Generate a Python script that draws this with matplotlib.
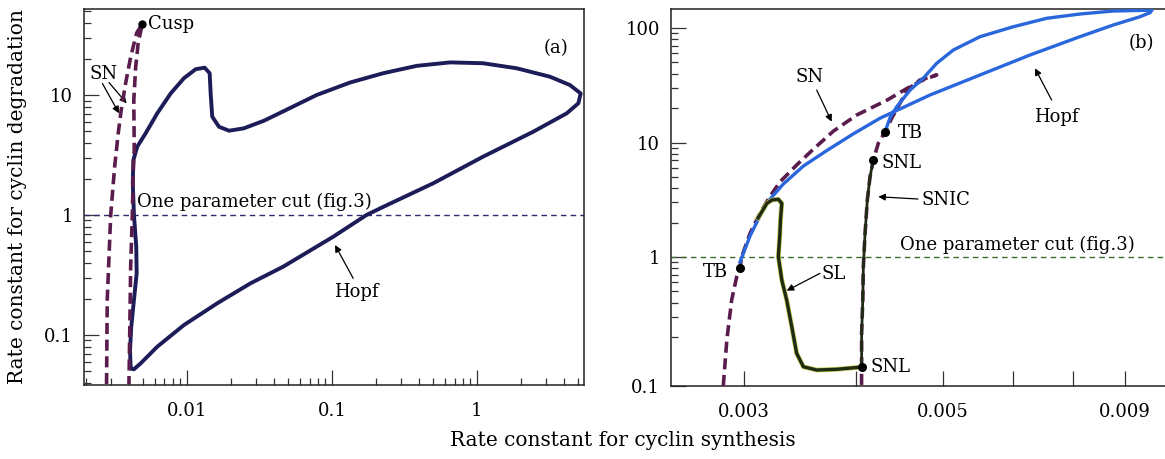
import matplotlib
matplotlib.use("Agg")
import matplotlib.pyplot as plt
from matplotlib.ticker import FixedLocator, FixedFormatter, NullFormatter, LogLocator

plt.rcParams['font.family'] = ['DejaVu Serif']
plt.rcParams['lines.scale_dashes'] = False

# ---- panel (a): log-log, rate constants ----
sn_a_x = [0.00279, 0.00282, 0.00298, 0.00317, 0.00336, 0.00352, 0.00378, 0.00409, 0.00450,
          0.00492,
          0.00461, 0.00443, 0.00430, 0.00433, 0.00427, 0.00420, 0.00409, 0.00403, 0.00398]
sn_a_y = [0.039, 0.196, 1.0, 2.51, 4.82, 7.5, 12.6, 20.7, 32.9,
          39.1,
          27.1, 17.1, 9.1, 3.48, 2.51, 1.0, 0.369, 0.104, 0.039]

hopf_a_x = [0.00409, 0.00405, 0.00413, 0.00431, 0.00450, 0.00447, 0.00431, 0.00423, 0.00427,
            0.00454, 0.00519, 0.00624, 0.00772, 0.00953, 0.01148, 0.01324, 0.01434, 0.01457,
            0.01494, 0.01662, 0.0195, 0.0247, 0.034, 0.0467, 0.0784, 0.133, 0.226, 0.384,
            0.652, 1.10, 1.88, 3.19, 4.38, 5.19, 5.0, 4.16, 2.44, 1.10, 0.50, 0.226, 0.173,
            0.102, 0.0461, 0.0275, 0.0162, 0.00953, 0.00624, 0.0048, 0.00431, 0.00409]
hopf_a_y = [0.0528, 0.075, 0.117, 0.196, 0.327, 0.544, 1.0, 1.84, 2.87,
            3.71, 4.8, 7.04, 10.3, 13.8, 16.4, 16.9, 15.2, 10.3,
            6.6, 5.44, 5.04, 5.28, 6.11, 7.36, 10.0, 12.7, 15.2, 17.5,
            18.7, 18.4, 16.7, 14.2, 12.1, 10.3, 8.53, 7.04, 4.94, 3.06, 1.84, 1.17, 1.0,
            0.659, 0.371, 0.27, 0.184, 0.121, 0.0799, 0.0581, 0.0518, 0.0528]

cusp_a = (0.00492, 39.1)

# ---- panel (b): log y, rate constant for cyclin synthesis on x ----
sn_b_x = [0.002844, 0.002870, 0.002906, 0.002944, 0.002969, 0.002982, 0.003047, 0.003125,
          0.003205, 0.003290, 0.003435, 0.003592, 0.003777, 0.004010, 0.004336, 0.004563,
          0.004757, 0.004925,
          0.004718, 0.004563, 0.004481, 0.004387, 0.004312, 0.004238, 0.004184, 0.004149,
          0.004120, 0.004096, 0.004078, 0.004072, 0.004060, 0.004060, 0.004059]
sn_b_y = [0.0747, 0.188, 0.421, 0.673, 0.806, 1.006, 1.61, 2.41,
          3.36, 4.52, 6.36, 8.86, 12.6, 17.4, 23.5, 29.7,
          35.2, 38.9,
          35.2, 28.7, 22.0, 16.3, 12.4, 9.84, 7.03, 5.03,
          3.15, 1.61, 0.823, 0.421, 0.217, 0.1094, 0.0747]

snic_x = [0.004184, 0.004149, 0.004120, 0.004096, 0.004078, 0.004072, 0.004060, 0.004060]
snic_y = [7.03, 5.03, 3.15, 1.61, 0.823, 0.421, 0.217, 0.1094]

hopf_b_x = [0.002969, 0.003047, 0.003125, 0.003205, 0.003319, 0.003495, 0.003712, 0.003974,
            0.004257, 0.004841, 0.005506, 0.006261, 0.00712, 0.007758, 0.008311, 0.008526,
            0.008571, 0.008442, 0.007752, 0.00712, 0.006535, 0.005999, 0.005506, 0.005141,
            0.004925, 0.004757, 0.004599, 0.004443, 0.004367, 0.004312]
hopf_b_y = [0.904, 1.53, 2.28, 3.18, 4.34, 6.23, 8.51, 11.9,
            16.3, 26.0, 38.9, 58.1, 84.0, 106.3, 125.5, 136.1,
            143.6, 142.8, 140.7, 132.5, 121.6, 102.6, 84.0, 64.3,
            49.2, 36.4, 28.7, 20.5, 16.4, 12.4]

sl_x = [0.00311, 0.003181, 0.003224, 0.003277, 0.003306, 0.003295, 0.003290, 0.003277,
        0.003306, 0.003348, 0.003392, 0.003435, 0.003495, 0.003617, 0.003808, 0.004060]
sl_y = [2.19, 2.94, 3.15, 3.19, 2.94, 2.10, 1.61, 1.006,
        0.63, 0.421, 0.246, 0.144, 0.110, 0.103, 0.1045, 0.1094]

tb_b_x = [0.002969, 0.004312]
tb_b_y = [0.806, 12.4]
snl_b_x = [0.004184, 0.004060]
snl_b_y = [7.03, 0.1094]

xt_b = [0.003, 0.004, 0.005, 0.006, 0.007, 0.008]
xt_b_labels = ['0.003', '', '0.005', '', '', '0.009']

SN_COL = '#5a1c4c'
TXT = 13

fig = plt.figure(figsize=(11.65, 4.59), dpi=100)
axa = fig.add_axes([84 / 1165, 1 - 385 / 459, 500 / 1165, 376 / 459])
axb = fig.add_axes([671 / 1165, 1 - 386 / 459, 495 / 1165, 377 / 459])

for ax in (axa, axb):
    for s in ax.spines.values():
        s.set_color('#222222')
        s.set_linewidth(1.1)
    ax.tick_params(which='both', direction='in', top=False, right=False,
                   color='#333333', labelsize=TXT, width=0.9)
    ax.tick_params(which='major', length=11)
    ax.tick_params(which='minor', length=5)
    ax.tick_params(axis='x', pad=12)
    ax.tick_params(axis='y', pad=8)

# panel (a)
axa.set_xscale('log')
axa.set_yscale('log')
axa.plot(hopf_a_x, hopf_a_y, color='#1c1c58', lw=2.8, solid_joinstyle='round', zorder=3)
axa.plot(sn_a_x, sn_a_y, color=SN_COL, lw=2.6, dashes=(8, 4), zorder=4)
axa.axhline(1, color='#2c2c70', lw=1.0, dashes=(4, 3), zorder=2)
axa.plot(*cusp_a, 'o', color='black', ms=5, zorder=5)
axa.set_xlim(0.00195, 5.47)
axa.set_ylim(0.0383, 52.1)
axa.xaxis.set_major_locator(FixedLocator([0.01, 0.1, 1]))
axa.xaxis.set_major_formatter(FixedFormatter(['0.01', '0.1', '1']))
axa.xaxis.set_minor_locator(LogLocator(base=10, subs=range(2, 10), numticks=20))
axa.xaxis.set_minor_formatter(NullFormatter())
axa.yaxis.set_major_locator(FixedLocator([0.1, 1, 10]))
axa.yaxis.set_major_formatter(FixedFormatter(['0.1', '1', '10']))
axa.yaxis.set_minor_locator(LogLocator(base=10, subs=range(2, 10), numticks=20))
axa.yaxis.set_minor_formatter(NullFormatter())

axa.text(0.00538, 39.1, 'Cusp', fontsize=TXT, va='center', ha='left')
axa.text(3.5, 24.6, '(a)', fontsize=TXT, va='center', ha='center')
axa.text(0.00268, 15.0, 'SN', fontsize=TXT, va='center', ha='center')
arw = dict(arrowstyle='-|>', color='black', lw=0.9, mutation_scale=10, shrinkA=0, shrinkB=0)
axa.annotate('', xy=(0.0034, 7.04), xytext=(0.00261, 12.5), arrowprops=arw)
axa.annotate('', xy=(0.00384, 8.53), xytext=(0.0029, 12.7), arrowprops=arw)
axa.text(0.00452, 1.28, 'One parameter cut (fig.3)', fontsize=TXT, va='center', ha='left')
axa.text(0.148, 0.23, 'Hopf', fontsize=TXT, va='center', ha='center')
axa.annotate('', xy=(0.105, 0.562), xytext=(0.140, 0.297), arrowprops=arw)

# panel (b)
axb.set_xscale('log')
axb.set_yscale('log')
axb.axhline(1, color='#3b6b2b', lw=1.0, dashes=(4, 3), zorder=2)
axb.plot(sn_b_x, sn_b_y, color=SN_COL, lw=2.6, dashes=(8, 4), zorder=3)
axb.plot(hopf_b_x, hopf_b_y, color='#2a66dc', lw=2.4, solid_joinstyle='round', zorder=4)
axb.plot(sl_x, sl_y, color='#c2c84a', lw=3.4, solid_joinstyle='round', zorder=4)
axb.plot(sl_x, sl_y, color='#1f2c14', lw=2.4, solid_joinstyle='round', zorder=5)
axb.plot(snic_x, snic_y, color='#1f2c14', lw=2.0, zorder=5)
axb.plot(tb_b_x, tb_b_y, 'o', color='black', ms=5.5, zorder=6)
axb.plot(snl_b_x, snl_b_y, 'o', color='black', ms=5.5, zorder=6)
axb.set_xlim(0.002486, 0.008885)
axb.set_ylim(0.0747, 146.6)
axb.xaxis.set_major_locator(FixedLocator(xt_b))
axb.xaxis.set_major_formatter(FixedFormatter(xt_b_labels))
axb.xaxis.set_minor_locator(FixedLocator([]))
axb.yaxis.set_major_locator(FixedLocator([0.0747, 1, 10, 100]))
axb.yaxis.set_major_formatter(FixedFormatter(['0.1', '1', '10', '100']))
axb.yaxis.set_minor_locator(FixedLocator([m * d for d in (0.1, 1, 10) for m in range(2, 10)]))
axb.yaxis.set_minor_formatter(NullFormatter())

axb.text(0.008347, 74.4, '(b)', fontsize=TXT, va='center', ha='center')
axb.text(0.003555, 37.6, 'SN', fontsize=TXT, va='center', ha='center')
axb.annotate('', xy=(0.003759, 15.2), xytext=(0.003617, 28.7), arrowprops=arw)
axb.text(0.006706, 16.8, 'Hopf', fontsize=TXT, va='center', ha='center')
axb.annotate('', xy=(0.006342, 44.5), xytext=(0.00662, 23.5), arrowprops=arw)
axb.text(0.004462, 12.0, 'TB', fontsize=TXT, va='center', ha='left')
axb.text(0.004276, 6.58, 'SNL', fontsize=TXT, va='center', ha='left')
axb.text(0.004742, 3.15, 'SNIC', fontsize=TXT, va='center', ha='left')
axb.annotate('', xy=(0.004238, 3.36), xytext=(0.004693, 3.21), arrowprops=arw)
axb.text(0.004481, 1.27, 'One parameter cut (fig.3)', fontsize=TXT, va='center', ha='left')
axb.text(0.002881, 0.735, 'TB', fontsize=TXT, va='center', ha='right')
axb.text(0.003664, 0.71, 'SL', fontsize=TXT, va='center', ha='left')
axb.annotate('', xy=(0.003348, 0.508), xytext=(0.003648, 0.72), arrowprops=arw)
axb.text(0.004149, 0.110, 'SNL', fontsize=TXT, va='center', ha='left')

fig.text(18 / 1165, 1 - 197 / 459, 'Rate constant for cyclin degradation', rotation=90,
         fontsize=14.5, ha='center', va='center')
fig.text(623 / 1165, 1 - 440 / 459, 'Rate constant for cyclin synthesis',
         fontsize=14.5, ha='center', va='center')

fig.savefig('out.png', dpi=100)
